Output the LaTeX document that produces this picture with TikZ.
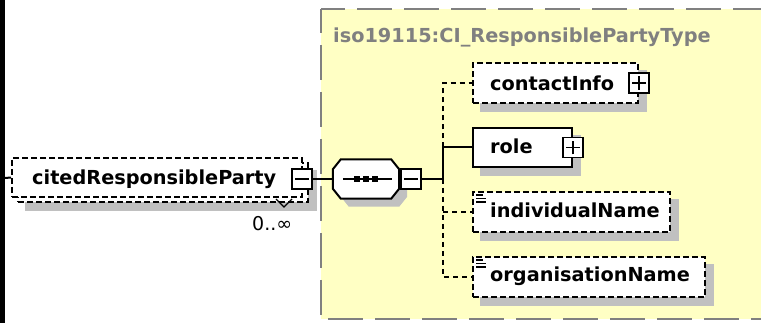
\documentclass[tikz,border=0pt]{standalone}
\usepackage{fontspec}
\setmainfont{DejaVu Sans}
\pgfdeclarelayer{back}
\pgfdeclarelayer{shadow}
\pgfsetlayers{back,shadow,main}
\definecolor{boxyellow}{RGB}{255,255,196}
\definecolor{framegray}{RGB}{128,128,128}
\definecolor{shadowgray}{RGB}{192,192,192}
\newcommand\eqicon[1]{%
  \draw[line width=1.2pt] ([shift={(4,4)}]#1.north west) -- ([shift={(11,4)}]#1.north west)
    ([shift={(4,7.5)}]#1.north west) -- ([shift={(14,7.5)}]#1.north west)
    ([shift={(4,11)}]#1.north west) -- ([shift={(14,11)}]#1.north west);}
\begin{document}
\begin{tikzpicture}[x=1pt,y=-1pt,line join=miter,
  elem/.style={draw=black, fill=white, line width=2pt, inner sep=0pt, rectangle},
  opt/.style={dash pattern=on 6pt off 3pt},
  lbl/.style={font=\fontsize{19.3}{19.3}\selectfont\bfseries, anchor=base west, inner sep=0pt},
  pm/.style={draw=black, fill=white, line width=1.6pt, minimum size=20pt, inner sep=0pt, rectangle},
  conn/.style={line width=2pt},
  optconn/.style={line width=2pt, dash pattern=on 5pt off 4pt},
  shadowed/.style={fill=shadowgray, transform canvas={xshift=8pt,yshift=-8pt}},
]
\useasboundingbox (0,0) rectangle (761,323);
% frame of the type
\begin{pgfonlayer}{back}
\fill[white] (0,0) rectangle (761,323);
\fill[boxyellow] (321,9) rectangle (790,319);
\draw[framegray, line width=2pt, dash pattern=on 35pt off 12pt, dash phase=11pt] (321,9) -- (321,319);
\draw[framegray, line width=2pt, dash pattern=on 35pt off 12pt, dash phase=11pt] (321,9) -- (790,9);
\draw[framegray, line width=2pt, dash pattern=on 35pt off 12pt, dash phase=40pt] (321,319) -- (790,319);
\fill[black] (0,0) rectangle (5,323);
\end{pgfonlayer}
\node[lbl, text=framegray] (title) at (333,43) {iso19115:CI\_ResponsiblePartyType};

% citedResponsibleParty
\node[elem, opt, minimum width=290, minimum height=39] (citedback) at (163,182.5) {};
\node[elem, opt, minimum width=290, minimum height=39] (cited) at (157,177.5) {};
\node[lbl] (citedt) at (32,185) {citedResponsibleParty};
\node[pm] (citedm) at (302,179) {};
\draw[line width=1.6pt] ([xshift=4pt]citedm.west) -- ([xshift=-4pt]citedm.east);
\draw[line width=1.4pt] (276,199) -- (284,207) -- (292,199);
\node[font=\fontsize{19}{19}\selectfont, anchor=base west, inner sep=0pt] (occ) at (252,231) {0..∞};
\coordinate (leftin) at (5,178);
\draw[conn] (leftin) -- (cited.west);

% sequence
\node[minimum width=66, minimum height=39, inner sep=0pt] (seq) at (366,179) {};
\draw[line width=2pt, fill=white] ([xshift=8pt]seq.north west) -- ([xshift=-8pt]seq.north east)
  -- ([yshift=-10pt]seq.north east) -- ([yshift=10pt]seq.south east)
  -- ([xshift=-8pt]seq.south east) -- ([xshift=8pt]seq.south west)
  -- ([yshift=10pt]seq.south west) -- ([yshift=-10pt]seq.north west) -- cycle;
\draw[line width=2pt] ([xshift=10pt]seq.west) -- ([xshift=-7pt]seq.east);
\foreach \d in {-9,0,9} \fill ([shift={(\d-2.8,-2.8)}]seq.center) rectangle ([shift={(\d+2.8,2.8)}]seq.center);
\node[pm] (seqm) at (411,179) {};
\draw[line width=1.6pt] ([xshift=4pt]seqm.west) -- ([xshift=-4pt]seqm.east);
\draw[conn] (citedm.east) -- (seq.west);

% children
\node[elem, opt, minimum width=165, minimum height=40] (contact) at (555.5,83) {};
\node[lbl] (contactt) at (490,91) {contactInfo};
\node[pm] (contactp) at (contact.east) {};
\draw[line width=1.6pt] ([xshift=4pt]contactp.west) -- ([xshift=-4pt]contactp.east) ([yshift=4pt]contactp.south) -- ([yshift=-4pt]contactp.north);

\node[elem, minimum width=99, minimum height=39] (role) at (522.5,147.5) {};
\node[lbl] (rolet) at (490,154) {role};
\node[pm] (rolep) at (role.east) {};
\draw[line width=1.6pt] ([xshift=4pt]rolep.west) -- ([xshift=-4pt]rolep.east) ([yshift=4pt]rolep.south) -- ([yshift=-4pt]rolep.north);

\node[elem, opt, minimum width=197, minimum height=40] (indiv) at (571.5,212) {};
\node[lbl] (indivt) at (490,218) {individualName};
\eqicon{indiv}

\node[elem, opt, minimum width=232, minimum height=40] (orgn) at (589,277) {};
\node[lbl] (orgnt) at (490,282) {organisationName};
\eqicon{orgn}

% bus
\coordinate (bus) at (443,179);
\draw[conn] (seqm.east) -- (bus);
\draw[conn] (bus) -- (bus |- role.west) -- (role.west);
\draw[optconn] (bus |- role.west) -- (bus |- contact.west) -- (contact.west);
\draw[optconn] (bus) -- (bus |- orgn.west) -- (orgn.west);
\draw[optconn] (bus |- indiv.west) -- (indiv.west);

% shadows
\begin{pgfonlayer}{shadow}
\fill[shadowed] (citedback.north west) rectangle (citedback.south east);
\fill[shadowed] ([xshift=8pt]seq.north west) -- ([xshift=-8pt]seq.north east)
  -- ([yshift=-10pt]seq.north east) -- ([yshift=10pt]seq.south east)
  -- ([xshift=-8pt]seq.south east) -- ([xshift=8pt]seq.south west)
  -- ([yshift=10pt]seq.south west) -- ([yshift=-10pt]seq.north west) -- cycle;
\fill[shadowed] (contact.north west) rectangle (contact.south east);
\fill[shadowed] (role.north west) rectangle (role.south east);
\fill[shadowed] (indiv.north west) rectangle (indiv.south east);
\fill[shadowed] (orgn.north west) rectangle (orgn.south east);
\end{pgfonlayer}
\end{tikzpicture}
\end{document}
